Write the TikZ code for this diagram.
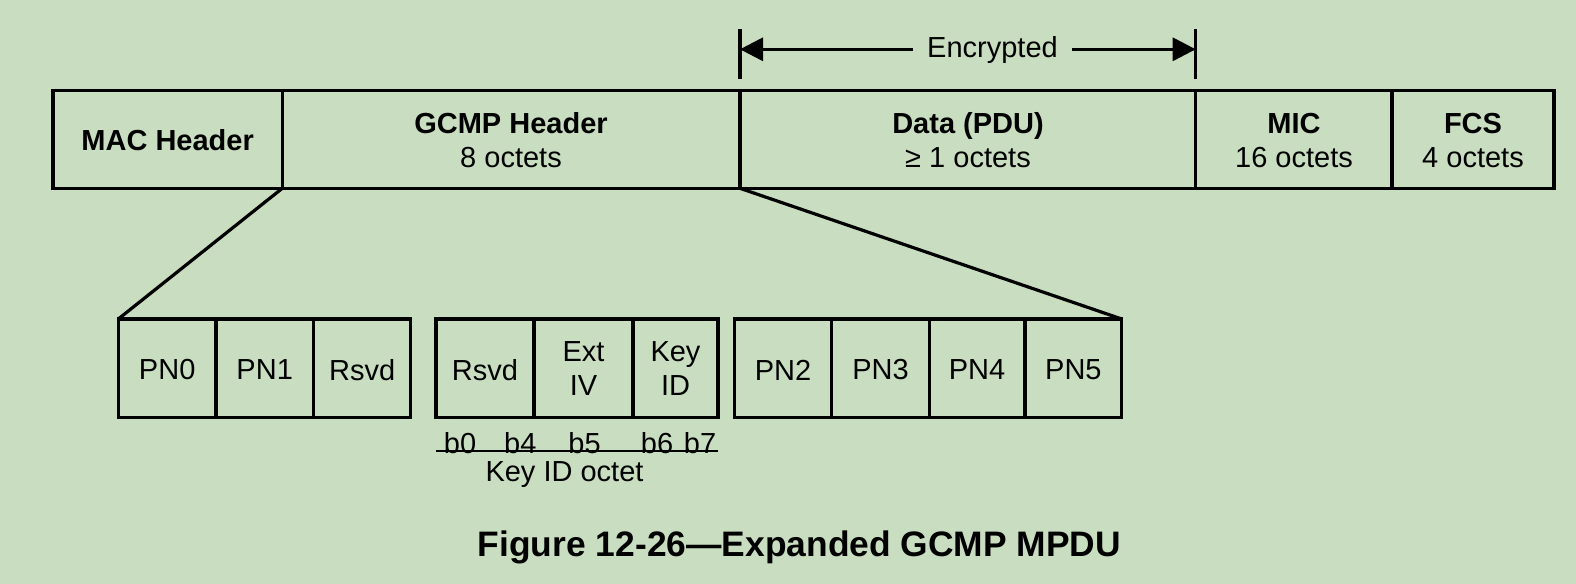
\documentclass[tikz,border=0pt]{standalone}
\usepackage{fontspec}
\setmainfont{Liberation Sans}
\usetikzlibrary{arrows.meta}
\definecolor{bg}{RGB}{201,222,193}
\begin{document}
\begin{tikzpicture}[x=1bp,y=-1bp,
  box/.style={draw,line width=3.2bp},
  lbl/.style={align=center,inner sep=0pt,font=\fontsize{29bp}{34bp}\selectfont},
  bl/.style={lbl,font=\fontsize{29bp}{34bp}\selectfont\bfseries},
  bit/.style={inner sep=0pt,font=\fontsize{29bp}{34bp}\selectfont},
  tip/.style={-{Triangle[length=23bp,width=23bp]},line width=3.2bp}]
\fill[bg] (0,0) rectangle (1576,584);
\useasboundingbox (0,0) rectangle (1576,584);
% top row
\draw[box] (53,90.7) rectangle (1554,188.3);
\foreach \x in {282.3,740,1195.7,1392} \draw[box] (\x,90.7) -- (\x,188.3);
\node[bl] (mac) at (167.7,140) {MAC Header};
\node[bl,anchor=base] (gh) at (511,134) {GCMP Header};
\node[lbl,anchor=base] (gho) at (511,168) {8 octets};
\node[bl,anchor=base] (dt) at (968,134) {Data (PDU)};
\node[lbl,anchor=base] (dto) at (968,168) {≥ 1 octets};
\node[bl,anchor=base] (mic) at (1294,134) {MIC};
\node[lbl,anchor=base] (mico) at (1294,168) {16 octets};
\node[bl,anchor=base] (fcs) at (1473,134) {FCS};
\node[lbl,anchor=base] (fcso) at (1473,168) {4 octets};
% encrypted
\coordinate (el) at (740,49.3);
\coordinate (er) at (1195.7,49.3);
\draw[line width=3.2bp] (740,29.3) -- (740,79);
\draw[line width=3.2bp] (1195.7,29.3) -- (1195.7,79);
\node[lbl,inner xsep=14bp] (enc) at (992.5,50) {Encrypted};
\draw[tip] (enc.west |- el) -- (el);
\draw[tip] (enc.east |- er) -- (er);
% lower boxes
\draw[box] (118.3,319) rectangle (410.8,417.3);
\foreach \x in {216,313.5} \draw[box] (\x,319) -- (\x,417.3);
\draw[box] (436,319) rectangle (718,417.3);
\foreach \x in {534,633} \draw[box] (\x,319) -- (\x,417.3);
\draw[box] (734.3,319) rectangle (1121.7,417.3);
\foreach \x in {831.7,929.2,1025} \draw[box] (\x,319) -- (\x,417.3);
\node[lbl] (pn0) at (167.2,370) {PN0};
\node[lbl] (pn1) at (264.7,370) {PN1};
\node[lbl] (rs1) at (362.1,370) {Rsvd};
\node[lbl] (rs2) at (485,370) {Rsvd};
\node[lbl] (ext) at (583.5,369) {Ext\\IV};
\node[lbl] (kid) at (675.5,369) {Key\\ID};
\node[lbl] (pn2) at (783,370) {PN2};
\node[lbl] (pn3) at (880.5,370) {PN3};
\node[lbl] (pn4) at (977.1,370) {PN4};
\node[lbl] (pn5) at (1073.4,370) {PN5};
% expansion lines
\coordinate (g1) at (282.3,188.3);
\coordinate (g2) at (740,188.3);
\coordinate (l1) at (118.3,319);
\coordinate (l2) at (1121.7,319);
\draw[line width=3.2bp] (g1) -- (l1);
\draw[line width=3.2bp] (g2) -- (l2);
% bits
\node[bit] (b0) at (460,443) {b0};
\node[bit] (b4) at (520.3,443) {b4};
\node[bit] (b5) at (584.6,443) {b5};
\node[bit] (b6) at (657,443) {b6};
\node[bit] (b7) at (700,443) {b7};
\coordinate (kl) at (436,451);
\coordinate (kr) at (718,451);
\draw[line width=2.4bp] (kl) -- (kr);
\node[lbl] (kio) at (564.5,475) {Key ID octet};
% caption
\node[inner sep=0pt,font=\fontsize{35.4bp}{42bp}\selectfont\bfseries] (cap) at (799.5,547) {Figure 12-26—Expanded GCMP MPDU};
\end{tikzpicture}
\end{document}
